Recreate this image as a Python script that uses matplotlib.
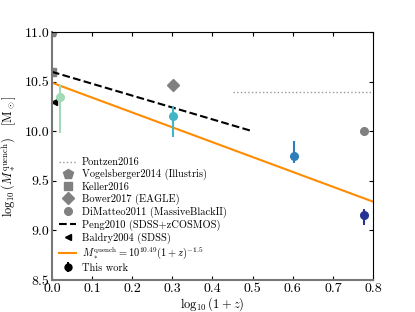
import matplotlib
matplotlib.use('Agg')
import matplotlib.pyplot as plt
import numpy as np

plt.rcParams['font.family'] = 'serif'
plt.rcParams['font.serif'] = ['cmr10']
plt.rcParams['mathtext.fontset'] = 'cm'
plt.rcParams['axes.formatter.use_mathtext'] = True
plt.rcParams['axes.unicode_minus'] = False

# datos de este trabajo
z_this = [0.05, 1.0, 3.0, 5.0]
m_this = [10.35, 10.15, 9.75, 9.16]
err_lo = [0.37, 0.21, 0.07, 0.11]
err_hi = [0.12, 0.10, 0.15, 0.06]
colores = ['#a1dab4', '#41b6c4', '#2c7fb8', '#253494']

# literatura
pontzen_x = [0.45, 0.8]
pontzen_y = [10.4, 10.4]
vogels_x, vogels_y = 0.0, 11.0
keller_x, keller_y = 0.0, 10.6
bower_x, bower_y = np.log10(2.0), 10.47
dimatteo_x, dimatteo_y = np.log10(6.0), 10.0
peng_x = [0.0, 0.5]
peng_y = [10.6, 10.0]
baldry_x, baldry_y = 0.006, 10.3

# ajuste
A_fit = 10.49
beta = -1.5
x_fit = np.linspace(0, 0.8, 50)

fig = plt.figure(figsize=(4.15, 3.12), dpi=100)
ax = fig.add_axes([0.125, 0.1026, 0.774, 0.7944])

gris = '#808080'
ax.plot(pontzen_x, pontzen_y, ls=':', color='#999999', lw=1.0, label='Pontzen2016')
ax.plot(vogels_x, vogels_y, 'p', color=gris, ms=7, label='Vogelsberger2014 (Illustris)')
ax.plot(keller_x, keller_y, 's', color=gris, ms=5.5, label='Keller2016')
ax.plot(bower_x, bower_y, 'D', color=gris, ms=6, label='Bower2017 (EAGLE)')
ax.plot(dimatteo_x, dimatteo_y, 'o', color=gris, ms=5.5, label='DiMatteo2011 (MassiveBlackII)')
ax.plot(peng_x, peng_y, '--', color='k', lw=1.5, label='Peng2010 (SDSS+zCOSMOS)')
ax.plot(baldry_x, baldry_y, '<', color='k', ms=5, clip_on=False, label='Baldry2004 (SDSS)')
ax.plot(x_fit, A_fit + beta * x_fit, '-', color='#ff8c00', lw=1.5,
        label=r'$M_*^{\rm quench}=10^{10.49}(1+z)^{-1.5}$')

lz = np.log10(1 + np.array(z_this))
for i in range(len(z_this)):
    ax.errorbar(lz[i], m_this[i], yerr=[[err_lo[i]], [err_hi[i]]], fmt='o',
                color=colores[i], ms=5.5, elinewidth=1.5, capsize=0)
ax.errorbar([], [], yerr=[], fmt='o', color='k', ms=5, elinewidth=1.5, label='This work')

ax.set_xlim(0, 0.8)
ax.set_ylim(8.5, 11.0)
ax.set_xticks(np.arange(0, 0.81, 0.1))
ax.set_yticks([8.5, 9.0, 9.5, 10.0, 10.5, 11.0])
ax.xaxis.set_major_formatter(matplotlib.ticker.FormatStrFormatter('%.1f'))
ax.yaxis.set_major_formatter(matplotlib.ticker.FormatStrFormatter('%.1f'))
ax.tick_params(direction='in', top=True, right=True, labelsize=10, length=3, pad=2)
for s in ['left', 'bottom']:
    ax.spines[s].set_color('#777777')
    ax.spines[s].set_linewidth(1.5)

ax.set_xlabel(r'$\log_{10}(1+z)$', fontsize=9, labelpad=0)
ax.set_ylabel(r'$\log_{10}(M_*^{\rm quench})$   [M$_\odot$]', fontsize=9, labelpad=4)

ax.legend(loc='lower left', frameon=False, fontsize=7.5, handlelength=1.6,
          handletextpad=0.6, labelspacing=0.17, borderaxespad=0.3, numpoints=1)

fig.savefig('out.png', dpi=100)
